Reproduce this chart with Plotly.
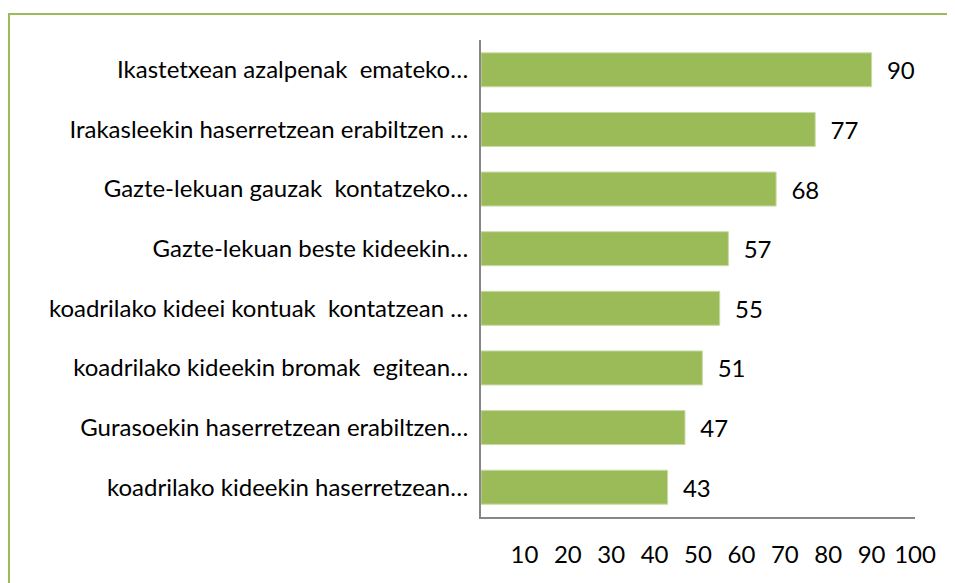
import plotly.graph_objects as go

categories = [
    "Ikastetxean azalpenak  emateko…",
    "Irakasleekin haserretzean erabiltzen …",
    "Gazte-lekuan gauzak  kontatzeko…",
    "Gazte-lekuan beste kideekin…",
    "koadrilako kideei kontuak  kontatzean …",
    "koadrilako kideekin bromak  egitean…",
    "Gurasoekin haserretzean erabiltzen…",
    "koadrilako kideekin haserretzean…",
]
values = [90, 77, 68, 57, 55, 51, 47, 43]
tick_vals = [10, 20, 30, 40, 50, 60, 70, 80, 90, 100]
tick_text = ["10", "20", "30", "40", "50", "60", "70", "80", "90", "100"]

# page body has an 8px margin, so the figure is drawn 8px smaller / shifted
W, H = 947, 575
L, R, T, B = 473, 40, 32, 66
pw, ph = W - L - R, H - T - B

def px_to_paper_x(px):
    return (px - L) / pw

def px_to_paper_y(py):
    return 1 - (py - T) / ph

FONT = "Lato, Liberation Sans, Arial, sans-serif"
FS = 24

fig = go.Figure(go.Bar(
    y=categories,
    x=values,
    orientation="h",
    marker=dict(color="#9BBB59", line=dict(color="#C9DBA5", width=1)),
    texttemplate="  %{x}",
    textposition="outside",
    textfont=dict(size=FS, color="#000000", family=FONT),
    cliponaxis=False,
    width=0.57,
))

fig.update_layout(
    width=W, height=H,
    margin=dict(l=L, r=R, t=T, b=B),
    paper_bgcolor="white",
    plot_bgcolor="white",
    font=dict(family=FONT, size=FS, color="#000000"),
    showlegend=False,
    uniformtext=dict(minsize=FS, mode="show"),
    xaxis=dict(
        range=[0, 100],
        tickvals=tick_vals,
        ticktext=tick_text,
        showgrid=False,
        zeroline=False,
        showline=True,
        linecolor="#868686",
        linewidth=2,
        ticks="outside",
        ticklen=15,
        tickcolor="rgba(0,0,0,0)",
        fixedrange=True,
        automargin=False,
    ),
    yaxis=dict(
        autorange="reversed",
        showgrid=False,
        zeroline=False,
        showline=True,
        linecolor="#868686",
        linewidth=2,
        ticks="outside",
        ticklen=6,
        tickcolor="rgba(0,0,0,0)",
        automargin=False,
    ),
    shapes=[dict(
        type="rect", xref="paper", yref="paper",
        x0=px_to_paper_x(1), x1=px_to_paper_x(965),
        y0=px_to_paper_y(600), y1=px_to_paper_y(6),
        line=dict(color="#9BBB59", width=2),
        fillcolor="rgba(0,0,0,0)",
        layer="below",
    )],
)

fig.write_html("out.html")
